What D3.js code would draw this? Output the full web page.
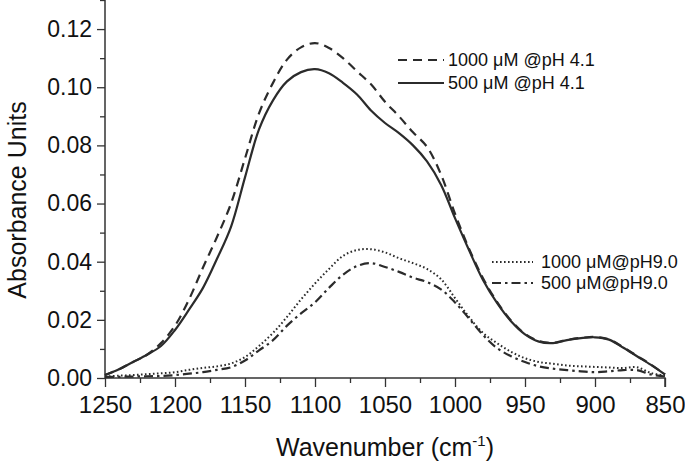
<!DOCTYPE html>
<html>
<head>
<meta charset="utf-8">
<script src="https://cdn.jsdelivr.net/npm/d3@7"></script>
<style>
  html, body { margin: 0; padding: 0; background: #fff; }
  svg { display: block; font-family: "Liberation Sans", Arial, sans-serif; }
</style>
</head>
<body>
<svg id="chart" width="685" height="468"></svg>
<script>
// ---- Data ----
const wavenumbers = [1250,1240,1230,1220,1210,1200,1190,1180,1170,1160,1150,1140,1130,1120,1110,1100,1090,1080,1070,1060,1050,1040,1030,1020,1010,1000,990,980,970,960,950,940,930,920,910,900,890,880,870,860,850];

const abs1000pH41 = [0.001,0.003,0.0055,0.008,0.012,0.018,0.027,0.038,0.0485,0.060,0.0755,0.091,0.1015,0.1095,0.1137,0.1152,0.1135,0.110,0.1055,0.101,0.095,0.090,0.0845,0.0795,0.070,0.0565,0.0445,0.0343,0.0262,0.0198,0.0152,0.0127,0.0121,0.0131,0.0138,0.0141,0.0133,0.0106,0.0076,0.0046,0.0012];

const abs500pH41 = [0.001,0.003,0.0055,0.008,0.011,0.0165,0.0235,0.031,0.041,0.052,0.069,0.0855,0.0955,0.102,0.1052,0.1062,0.1048,0.1015,0.0975,0.092,0.0877,0.0842,0.080,0.0745,0.0665,0.0550,0.0440,0.0337,0.0258,0.0195,0.0150,0.0125,0.0120,0.0130,0.0137,0.0140,0.0132,0.0105,0.0075,0.0045,0.0012];

const abs1000pH90 = [0.0005,0.0008,0.001,0.0013,0.0016,0.002,0.0028,0.0035,0.004,0.005,0.0072,0.011,0.0155,0.021,0.027,0.0325,0.0375,0.042,0.044,0.0443,0.0432,0.0412,0.0395,0.0375,0.034,0.0275,0.021,0.0155,0.012,0.009,0.0068,0.0055,0.0049,0.0043,0.0040,0.0038,0.0036,0.0034,0.0037,0.0017,0.0008];

const abs500pH90 = [0.0003,0.0004,0.0005,0.0006,0.0007,0.001,0.0015,0.002,0.0028,0.0037,0.006,0.0095,0.013,0.018,0.0222,0.026,0.031,0.0355,0.0385,0.0395,0.0382,0.0365,0.0345,0.033,0.0305,0.026,0.0205,0.0148,0.0103,0.0075,0.0055,0.004,0.0032,0.0027,0.0023,0.002,0.0023,0.0027,0.0027,0.0012,0.0005];

const seriesNames = ["1000 \u03BCM @pH 4.1", "500 \u03BCM @pH 4.1", "1000 \u03BCM@pH9.0", "500 \u03BCM@pH9.0"];
const xTicks = [1250,1200,1150,1100,1050,1000,950,900,850];
const yTicks = [0.00,0.02,0.04,0.06,0.08,0.10,0.12];

// ---- Layout ----
const svg = d3.select("#chart");
const x = d3.scaleLinear().domain([1250, 850]).range([105, 665]);
const y = d3.scaleLinear().domain([0, 0.13]).range([378, 0]);
const axisColor = "#333";
const lineColor = "#2b2b2b";

// Axes
const xAxis = d3.axisBottom(x).tickValues(xTicks).tickSize(9).tickPadding(9).tickFormat(d3.format("d"));
const yAxis = d3.axisLeft(y).tickValues(yTicks).tickSize(8).tickPadding(5).tickFormat(d3.format(".2f"));

const gx = svg.append("g").attr("transform", "translate(0,378)").call(xAxis);
const gy = svg.append("g").attr("transform", "translate(105,0)").call(yAxis);

// minor ticks
const xMinor = d3.range(1225, 850, -50);
const yMinor = d3.range(0.01, 0.135, 0.02);
svg.append("g").attr("transform", "translate(0,378)")
  .call(d3.axisBottom(x).tickValues(xMinor).tickSize(5).tickFormat(""))
  .call(g => g.select(".domain").remove());
svg.append("g").attr("transform", "translate(105,0)")
  .call(d3.axisLeft(y).tickValues(yMinor).tickSize(5).tickFormat(""))
  .call(g => g.select(".domain").remove());

svg.selectAll(".domain").attr("stroke", axisColor).attr("stroke-width", 1.5);
svg.selectAll(".tick line").attr("stroke", axisColor).attr("stroke-width", 1.3);
gx.selectAll(".domain").attr("d", `M${x(1250)},0H${x(850)}V9`);
gy.selectAll(".domain").attr("d", `M-4,${y(0.13)}H0V${y(0)}`);
gx.selectAll(".tick text").attr("font-size", 24).attr("fill", "#111").attr("font-family", "Liberation Sans, Arial, sans-serif");
gy.selectAll(".tick text").attr("font-size", 23).attr("fill", "#111").attr("font-family", "Liberation Sans, Arial, sans-serif");

// Axis titles
const xt = svg.append("text").attr("x", 385).attr("y", 456).attr("text-anchor", "middle")
  .attr("font-size", 25).attr("fill", "#111");
xt.append("tspan").text("Wavenumber (cm");
xt.append("tspan").attr("font-size", 15).attr("dy", -10).text("-1");
xt.append("tspan").attr("dy", 10).text(")");

svg.append("text").attr("transform", "translate(26,200) rotate(-90)").attr("text-anchor", "middle")
  .attr("font-size", 25).attr("fill", "#111").text("Absorbance Units");

// Lines
const styles = [
  {data: abs1000pH41, dash: "9,6", w: 2.2},
  {data: abs500pH41, dash: null, w: 2.2},
  {data: abs1000pH90, dash: "1.6,2.4", w: 2},
  {data: abs500pH90, dash: "9,4,2.5,4", w: 2.2}
];
const line = d3.line().x(d => x(d[0])).y(d => y(d[1])).curve(d3.curveCatmullRom.alpha(0.5));
styles.forEach(s => {
  svg.append("path")
    .datum(wavenumbers.map((w, i) => [w, s.data[i]]))
    .attr("d", line)
    .attr("fill", "none")
    .attr("stroke", lineColor)
    .attr("stroke-width", s.w)
    .attr("stroke-dasharray", s.dash);
});

// Legends
const legendRows = [
  {x1: 398, x2: 444, tx: 448, y: 60, i: 0},
  {x1: 398, x2: 444, tx: 448, y: 83, i: 1},
  {x1: 492, x2: 533, tx: 541, y: 262, i: 2},
  {x1: 492, x2: 533, tx: 541, y: 283, i: 3}
];
legendRows.forEach(r => {
  const s = styles[r.i];
  svg.append("line").attr("x1", r.x1).attr("x2", r.x2).attr("y1", r.y).attr("y2", r.y)
    .attr("stroke", lineColor).attr("stroke-width", s.w).attr("stroke-dasharray", s.dash);
  svg.append("text").attr("x", r.tx).attr("y", r.y).attr("dy", "0.36em")
    .attr("font-size", 18).attr("fill", "#111").text(seriesNames[r.i]);
});
</script>
</body>
</html>
